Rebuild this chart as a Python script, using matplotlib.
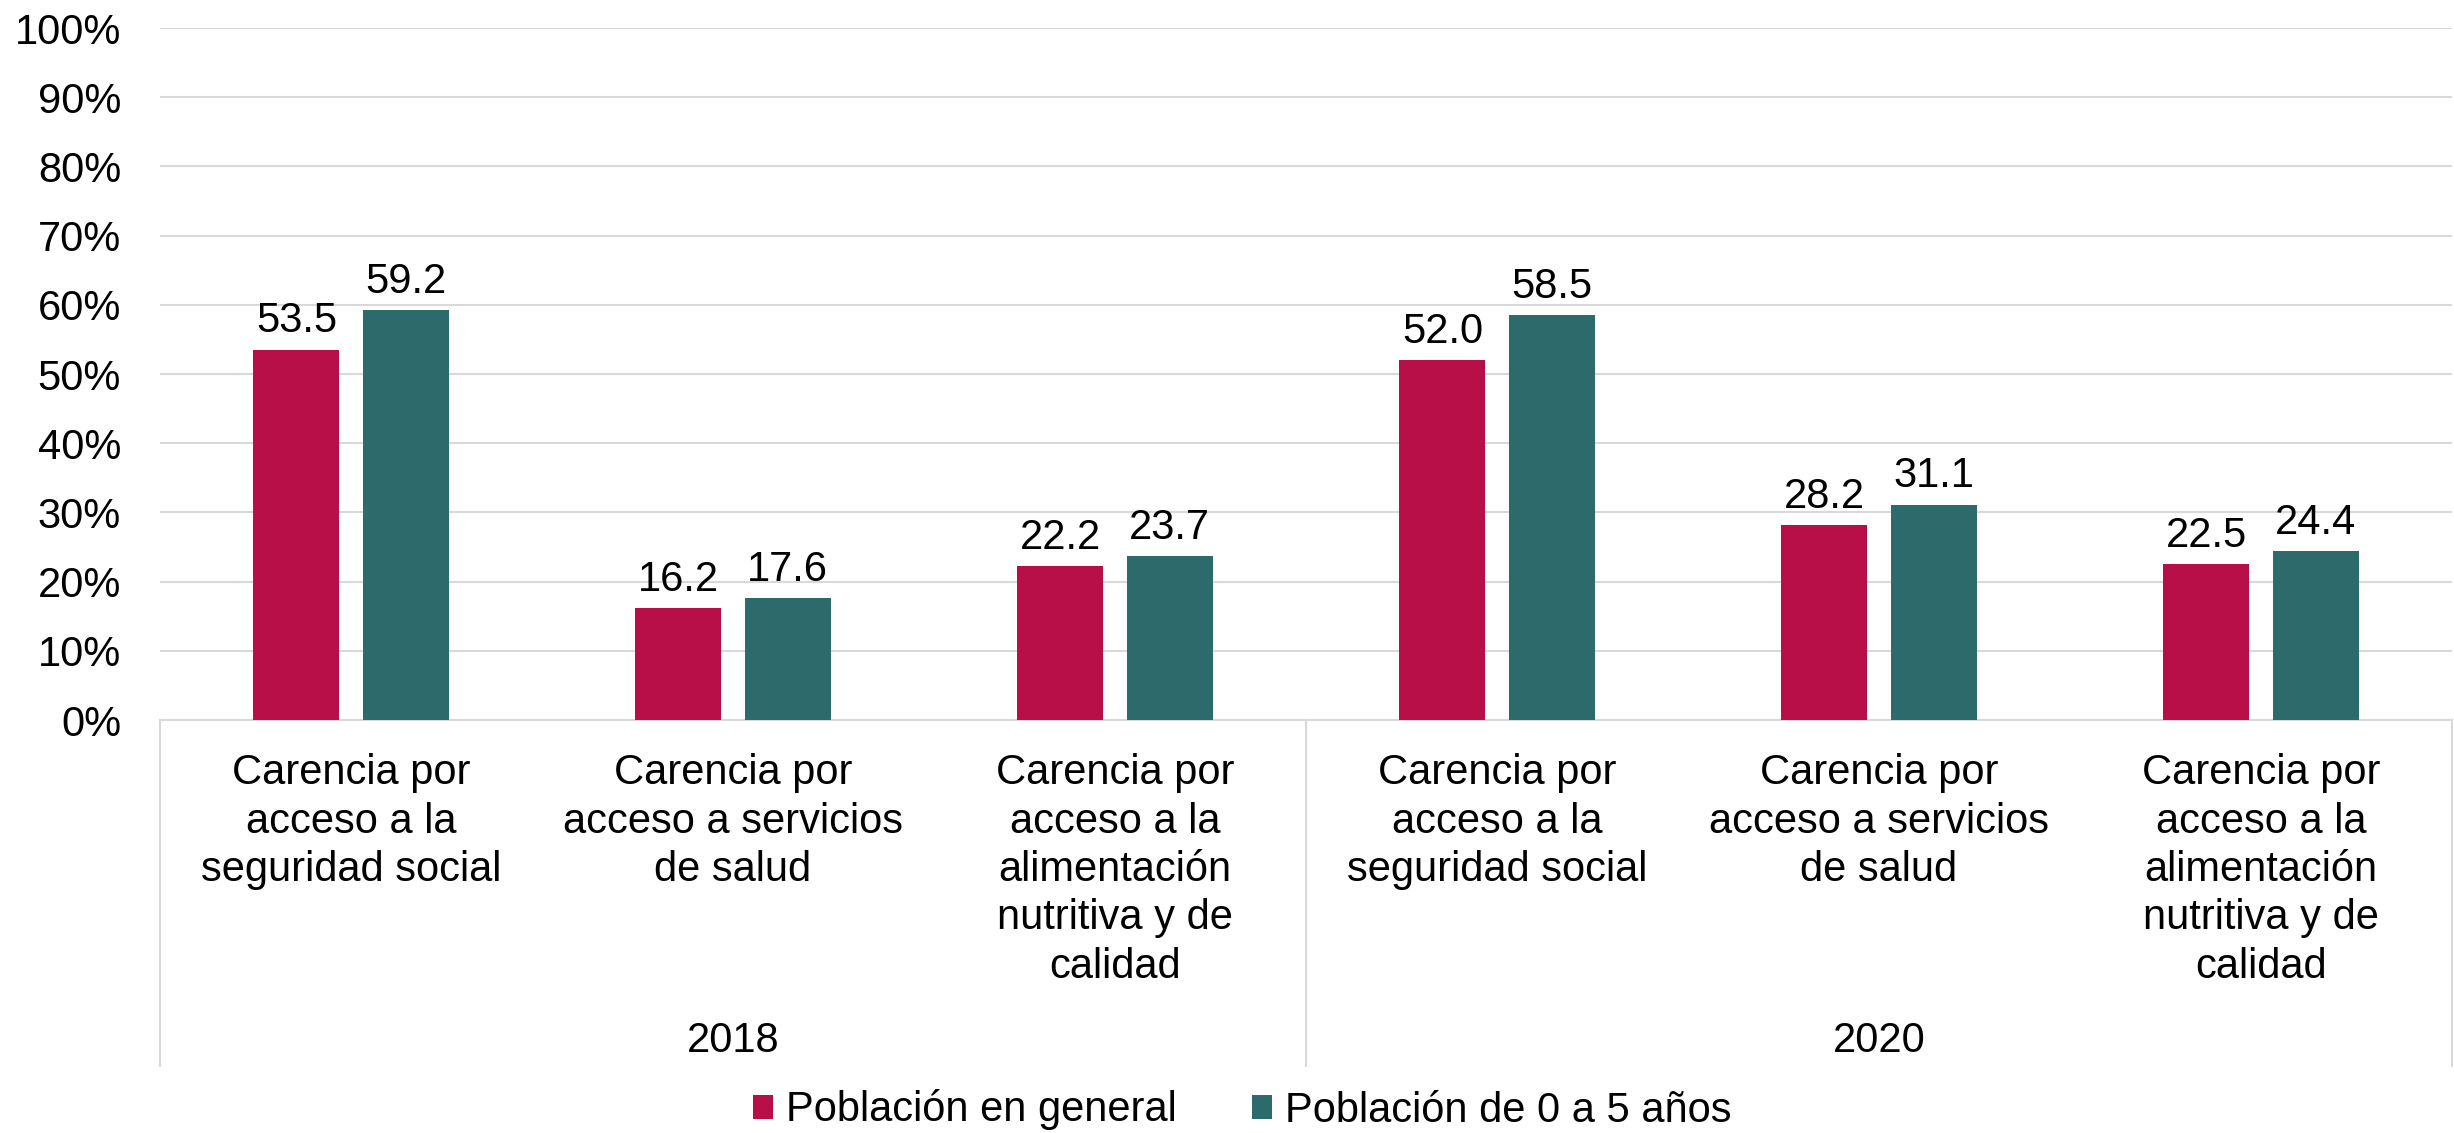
import matplotlib
matplotlib.use('Agg')
import matplotlib.pyplot as plt
import numpy as np
from matplotlib.ticker import FuncFormatter

plt.rcParams['font.family'] = ['Liberation Sans', 'DejaVu Sans']

# datos
categorias = [
    "Carencia por\nacceso a la\nseguridad social",
    "Carencia por\nacceso a servicios\nde salud",
    "Carencia por\nacceso a la\nalimentación\nnutritiva y de\ncalidad",
] * 2
anios = ["2018", "2020"]
general = [53.5, 16.2, 22.2, 52.0, 28.2, 22.5]
ninos = [59.2, 17.6, 23.7, 58.5, 31.1, 24.4]
series_nombres = ["Población en general", "Población de 0 a 5 años"]

rosa = '#B80F48'
verde = '#2C6A6B'
gris = '#D9D9D9'
fs = 30

fig = plt.figure(figsize=(24.54, 11.33), dpi=100)
ax = fig.add_axes([160 / 2454, 1 - 720 / 1133, (2452 - 160) / 2454, (720 - 28) / 1133])

x = np.arange(len(categorias))
w = 0.225
off = 0.143
b1 = ax.bar(x - off, general, w, color=rosa, label=series_nombres[0], zorder=3)
b2 = ax.bar(x + off, ninos, w, color=verde, label=series_nombres[1], zorder=3)
ax.bar_label(b1, labels=[f"{v:.1f}" for v in general], padding=6, fontsize=fs)
ax.bar_label(b2, labels=[f"{v:.1f}" for v in ninos], padding=6, fontsize=fs)

ax.set_xlim(-0.5, len(categorias) - 0.5)
ax.set_ylim(0, 100)
ax.set_yticks(np.arange(0, 101, 10))
ax.yaxis.set_major_formatter(FuncFormatter(lambda v, p: f"{v:.0f}%"))
ax.grid(axis='y', color=gris, linewidth=1.5, zorder=0)
ax.tick_params(axis='y', length=0, pad=28, labelsize=fs)
ax.set_xticks(x)
ax.set_xticklabels(categorias, fontsize=fs, linespacing=1.27)
ax.tick_params(axis='x', length=0, pad=24)

for s in ['top', 'right', 'left']:
    ax.spines[s].set_visible(False)
ax.spines['bottom'].set_color(gris)
ax.spines['bottom'].set_linewidth(1.5)

# separadores de grupos y etiquetas de año
trans = ax.get_xaxis_transform()
y_fondo = (720 - 1066) / 692
for xv in [-0.5, 2.5, 5.5]:
    ax.plot([xv, xv], [0, y_fondo], color=gris, linewidth=1.5, transform=trans, clip_on=False)
for i, a in enumerate(anios):
    ax.text(1 + 3 * i, (720 - 1041) / 692, a, transform=trans, ha='center', va='center', fontsize=fs)

fig.legend(loc='center', bbox_to_anchor=(1242 / 2454, 1 - 1110 / 1133), ncol=2, frameon=False,
           fontsize=fs, handlelength=0.5, handleheight=0.5, handletextpad=0.3, columnspacing=1.8)

fig.savefig('out.png', dpi=100)
